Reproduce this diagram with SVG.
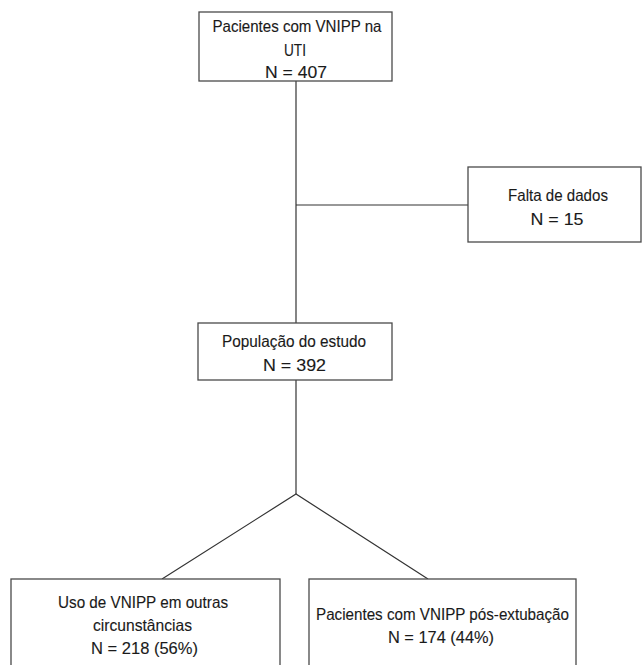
<svg xmlns="http://www.w3.org/2000/svg" width="643" height="665" viewBox="0 0 643 665">
<style>
.box{fill:#fff;stroke:#4a4a4a;stroke-width:1.3}
.ln{fill:none;stroke:#333;stroke-width:1.2}
text{font-family:"Liberation Sans Narrow","Liberation Sans",Arial,sans-serif;font-size:16.5px;fill:#1a1a1a;stroke:#1a1a1a;stroke-width:0.12;text-anchor:middle}
</style>
<rect width="643" height="665" fill="#fff"/>
<g id="connectors">
<line class="ln" x1="296" y1="81" x2="296" y2="323"/>
<line class="ln" x1="296" y1="205" x2="468" y2="205"/>
<line class="ln" x1="296" y1="380" x2="296" y2="494"/>
<polyline class="ln" points="162,579 296,494 428,579"/>
</g>
<g id="node-top">
<rect class="box" x="199" y="12" width="193" height="69"/>
<text x="297" y="32" textLength="169" lengthAdjust="spacingAndGlyphs">Pacientes com VNIPP na</text>
<text x="295" y="55.5" textLength="22" lengthAdjust="spacingAndGlyphs">UTI</text>
<text x="296" y="78" textLength="62" lengthAdjust="spacingAndGlyphs">N = 407</text>
</g>
<g id="node-missing">
<rect class="box" x="468" y="167" width="173" height="75"/>
<text x="558" y="200.5" textLength="100" lengthAdjust="spacingAndGlyphs">Falta de dados</text>
<text x="557" y="225" textLength="53" lengthAdjust="spacingAndGlyphs">N = 15</text>
</g>
<g id="node-study">
<rect class="box" x="198" y="323" width="194" height="57"/>
<text x="294" y="346.5" textLength="144" lengthAdjust="spacingAndGlyphs">População do estudo</text>
<text x="294.5" y="371" textLength="63" lengthAdjust="spacingAndGlyphs">N = 392</text>
</g>
<g id="node-other">
<rect class="box" x="11" y="579" width="269" height="95"/>
<text x="143" y="607.5" textLength="170" lengthAdjust="spacingAndGlyphs">Uso de VNIPP em outras</text>
<text x="142.5" y="630.5" textLength="99" lengthAdjust="spacingAndGlyphs">circunstâncias</text>
<text x="144.5" y="654" textLength="107" lengthAdjust="spacingAndGlyphs">N = 218 (56%)</text>
</g>
<g id="node-postext">
<rect class="box" x="309" y="579" width="267" height="95"/>
<text x="442.5" y="620" textLength="253" lengthAdjust="spacingAndGlyphs">Pacientes com VNIPP pós-extubação</text>
<text x="441" y="643" textLength="106" lengthAdjust="spacingAndGlyphs">N = 174 (44%)</text>
</g>
</svg>
